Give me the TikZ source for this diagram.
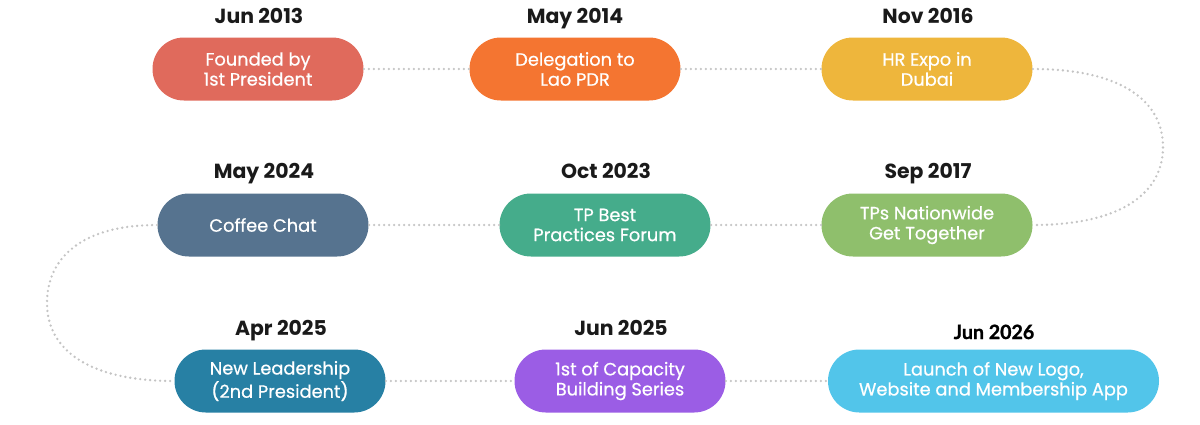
\documentclass[tikz,border=0pt]{standalone}
\usepackage{fontspec}
\setmainfont{Poppins}
\newfontfamily\pillfont[FakeBold=0.6]{Poppins}
\newfontfamily\datefont[BoldFeatures={FakeBold=1.2}]{Lato}
\definecolor{cA}{HTML}{E06A5C}
\definecolor{cB}{HTML}{F47531}
\definecolor{cC}{HTML}{EEB63C}
\definecolor{cD}{HTML}{8FBF6C}
\definecolor{cE}{HTML}{45AC8B}
\definecolor{cF}{HTML}{56738F}
\definecolor{cG}{HTML}{2780A4}
\definecolor{cH}{HTML}{9B5DE5}
\definecolor{cI}{HTML}{52C5EA}
\definecolor{dotgray}{HTML}{C4C4C4}
\definecolor{datecol}{HTML}{1A1A1A}
\tikzset{
  pill/.style={fill=#1, draw=none, rounded corners=15.7pt, minimum width=105.5pt, minimum height=31.5pt,
    text=white, align=center, inner sep=0pt, font=\pillfont\fontsize{8.9}{10}\selectfont},
  datelbl/.style={text=datecol, inner sep=0pt, anchor=base, font=\fontsize{10.2}{11}\selectfont\bfseries},
  dotline/.style={draw=dotgray, line width=1.3pt, line cap=round, dash pattern=on 0pt off 2.5pt},
}
\begin{document}
\begin{tikzpicture}[x=0.5pt,y=-0.5pt]
\useasboundingbox (0,0) rectangle (1200,424);
% pills
\node[pill=cA] (p1) at (258,69) {Founded by\\1st President};
\node[pill=cB] (p2) at (575,69) {Delegation to\\Lao PDR};
\node[pill=cC] (p3) at (927,69) {HR Expo in\\Dubai};
\node[pill=cD] (p4) at (927,225) {TPs Nationwide\\Get Together};
\node[pill=cE] (p5) at (605,225) {TP Best\\Practices Forum};
\node[pill=cF] (p6) at (263,225) {Coffee Chat};
\node[pill=cG] (p7) at (280,381) {New Leadership\\(2nd President)};
\node[pill=cH] (p8) at (620,381) {1st of Capacity\\Building Series};
\node[pill=cI, minimum width=165.5pt] (p9) at (993.5,381) {Launch of New Logo,\\Website and Membership App};
% dates
\node[datelbl] (d1) at (259,23) {Jun 2013};
\node[datelbl] (d2) at (575,23) {May 2014};
\node[datelbl] (d3) at (928,23) {Nov 2016};
\node[datelbl] (d4) at (928,178) {Sep 2017};
\node[datelbl] (d5) at (606,178) {Oct 2023};
\node[datelbl] (d6) at (264,178) {May 2024};
\node[datelbl] (d7) at (281,335) {Apr 2025};
\node[datelbl] (d8) at (621,335) {Jun 2025};
\node[text=black, inner sep=0pt, anchor=base, font=\datefont\fontsize{9.8}{11}\selectfont\bfseries] (d9) at (994,339) {Jun 2026};
% connectors
\coordinate (rr) at (1163,147);
\coordinate (ll) at (47,303);
\draw[dotline] (p1.east) -- (p2.west);
\draw[dotline] (p2.east) -- (p3.west);
\draw[dotline] (p3.east) .. controls +(90,0) and +(0,-45) .. (rr) .. controls +(0,45) and +(90,0) .. (p4.east);
\draw[dotline] (p4.west) -- (p5.east);
\draw[dotline] (p5.west) -- (p6.east);
\draw[dotline] (p6.west) .. controls +(-78,0) and +(0,-43) .. (ll) .. controls +(0,47) and +(-85,0) .. (p7.west);
\draw[dotline] (p7.east) -- (p8.west);
\draw[dotline] (p8.east) -- (p9.west);
\end{tikzpicture}
\end{document}
